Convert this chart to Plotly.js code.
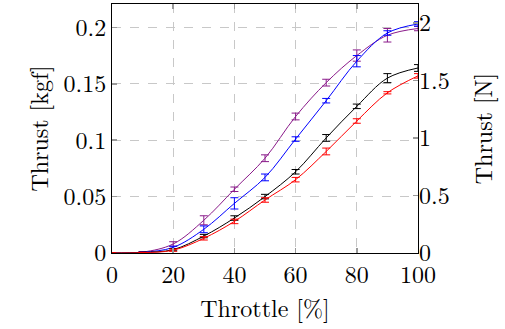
<!DOCTYPE html>
<html>
<head>
<meta charset="utf-8">
<script src="https://cdn.plot.ly/plotly-3.0.1.min.js"></script>
<style>html,body{margin:0;padding:0;background:#fff;}#chart{width:505px;height:329px;}</style>
</head>
<body>
<div id="chart"></div>
<script>
const throttle = [0, 10, 20, 30, 40, 50, 60, 70, 80, 90, 100];

const blackThrust = [0, 0.0005, 0.003, 0.015, 0.031, 0.050, 0.072, 0.102, 0.130, 0.155, 0.164];
const blackErr    = [0, 0.0003, 0.001, 0.0015, 0.002, 0.002, 0.002, 0.003, 0.002, 0.004, 0.003];

const redThrust = [0, 0.0003, 0.0025, 0.013, 0.028, 0.047, 0.065, 0.090, 0.117, 0.142, 0.157];
const redErr    = [0, 0.0003, 0.001, 0.0015, 0.002, 0.002, 0.002, 0.003, 0.002, 0.001, 0.002];

const blueThrust = [0, 0.0006, 0.005, 0.021, 0.044, 0.067, 0.101, 0.135, 0.170, 0.195, 0.203];
const blueErr    = [0, 0.0003, 0.001, 0.003, 0.005, 0.003, 0.002, 0.002, 0.005, 0.002, 0.002];

const purpleThrust = [0, 0.0008, 0.008, 0.029, 0.0565, 0.084, 0.121, 0.151, 0.175, 0.193, 0.199];
const purpleErr    = [0, 0.0003, 0.002, 0.004, 0.002, 0.003, 0.003, 0.003, 0.005, 0.006, 0.002];

const xTicks = [0, 20, 40, 60, 80, 100];
const kgfTicks = [0, 0.05, 0.1, 0.15, 0.2];
const kgfTickText = ['0', '0.05', '0.1', '0.15', '0.2'];
const nTicks = [0, 0.5, 1, 1.5, 2];
const nTickText = ['0', '0.5', '1', '1.5', '2'];

const G = 9.80665;
const kgfMax = 0.2207;

function series(y, err, color) {
  return {
    x: throttle, y: y, type: 'scatter', mode: 'lines',
    line: {color: color, width: 1, shape: 'spline', smoothing: 1},
    error_y: {type: 'data', array: err, visible: true, color: color, thickness: 1, width: 4},
    showlegend: false, hoverinfo: 'skip'
  };
}

const FONT = 'Latin Modern Roman';
const FS = 24;

const data = [
  series(purpleThrust, purpleErr, '#8a1a8a'),
  series(blueThrust, blueErr, '#0000ff'),
  series(blackThrust, blackErr, '#000000'),
  series(redThrust, redErr, '#ff0000'),
  {x: [0, 100], y: [0, 0], yaxis: 'y2', mode: 'lines', line: {width: 0}, opacity: 0, showlegend: false, hoverinfo: 'skip'}
];

const layout = {
  width: 505, height: 329,
  margin: {l: 112, r: 87, t: 4, b: 76},
  paper_bgcolor: '#fff', plot_bgcolor: '#fff',
  font: {family: FONT, size: FS, color: '#000'},
  showlegend: false,
  xaxis: {
    range: [0, 100], tickvals: xTicks, ticktext: xTicks.map(String),
    ticks: 'inside', ticklen: 5, tickcolor: '#999', tickwidth: 1.5,
    showline: true, linecolor: '#000', linewidth: 1, mirror: 'ticks',
    showgrid: true, gridcolor: '#c8c8c8', griddash: 'dash', gridwidth: 1,
    zeroline: false,
    tickfont: {family: FONT, size: FS},
    title: {text: 'Throttle [%]', font: {family: FONT, size: FS}, standoff: 3}
  },
  yaxis: {
    range: [0, kgfMax], tickvals: kgfTicks, ticktext: kgfTickText,
    ticks: 'inside', ticklen: 5, tickcolor: '#999', tickwidth: 1.5,
    showline: true, linecolor: '#000', linewidth: 1, mirror: true,
    showgrid: true, gridcolor: '#c8c8c8', griddash: 'dash', gridwidth: 1,
    zeroline: false,
    tickfont: {family: FONT, size: FS},
    title: {text: 'Thrust [kgf]', font: {family: FONT, size: FS}, standoff: 8}
  },
  yaxis2: {
    overlaying: 'y', side: 'right',
    range: [0, kgfMax * G], tickvals: nTicks, ticktext: nTickText,
    ticks: 'inside', ticklen: 5, tickcolor: '#999', tickwidth: 1.5,
    showline: false, showgrid: false, zeroline: false,
    tickfont: {family: FONT, size: FS},
    title: {text: 'Thrust [N]', font: {family: FONT, size: FS}, standoff: 26}
  }
};

Plotly.newPlot('chart', data, layout, {staticPlot: true, displayModeBar: false});
</script>
</body>
</html>
